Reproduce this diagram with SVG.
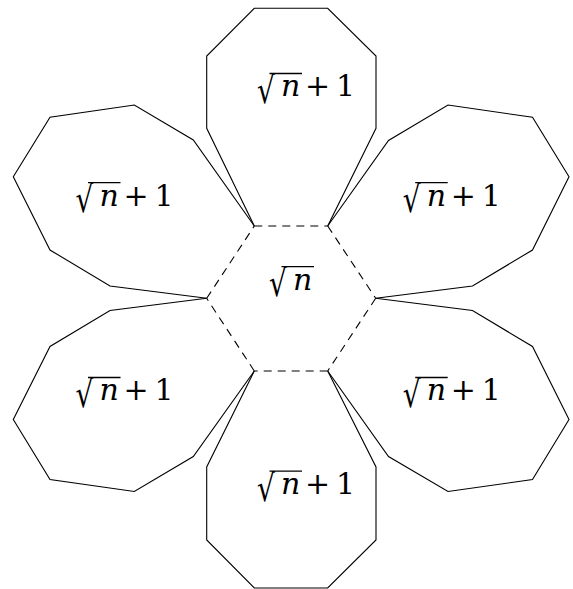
<svg xmlns="http://www.w3.org/2000/svg" width="573" height="589" viewBox="0 0 573 589">
<style>
.petal{fill:none;stroke:#000;stroke-width:1.1;stroke-linejoin:miter}
.hex{stroke:#000;stroke-width:1.1;stroke-dasharray:8 6;fill:none}
.t{font-family:"DejaVu Serif",serif;font-size:30px;fill:#000}
.it{font-style:italic}
.rad{font-family:"DejaVu Serif",serif;font-size:28px;fill:#000}
.bar{stroke:#000;stroke-width:1.3}
</style>
<rect width="573" height="589" fill="#fff"/>
<g id="connectors">
<line class="hex" x1="254.3" y1="226" x2="327.7" y2="226"/>
<line class="hex" x1="327.7" y1="226" x2="375.7" y2="298.3"/>
<line class="hex" x1="375.7" y1="298.3" x2="327.7" y2="371"/>
<line class="hex" x1="327.7" y1="371" x2="254.3" y2="371"/>
<line class="hex" x1="254.3" y1="371" x2="206.7" y2="298.3"/>
<line class="hex" x1="206.7" y1="298.3" x2="254.3" y2="226"/>
</g>
<g id="center">
<g transform="translate(269,289.5)">
<text class="rad" transform="translate(0,6.5) scale(1,1.32)" x="0" y="0">√</text>
<line class="bar" x1="12.5" y1="-22.8" x2="45" y2="-22.8"/>
<text class="t it" x="24" y="0">n</text>
</g>
</g>
<g id="petal-top">
<polyline class="petal" points="254.3,226 206.7,128.3 206.7,56 254.3,8.3 327.7,8.3 376,56 376,128.3 327.7,226"/>
<g transform="translate(257,96.3)">
<text class="rad" transform="translate(0,6.5) scale(1,1.32)" x="0" y="0">√</text>
<line class="bar" x1="12.5" y1="-22.8" x2="45" y2="-22.8"/>
<text class="t it" x="24" y="0">n</text>
<text class="t" x="48" y="0">+</text>
<text class="t" x="79" y="0">1</text>
</g>
</g>
<g id="petal-upper-left">
<polyline class="petal" points="254.3,226 193.3,140 134.3,105 50,117.3 13.3,176.7 50,250 110,286 206.7,298.3"/>
<g transform="translate(75.5,205.5)">
<text class="rad" transform="translate(0,6.5) scale(1,1.32)" x="0" y="0">√</text>
<line class="bar" x1="12.5" y1="-22.8" x2="45" y2="-22.8"/>
<text class="t it" x="24" y="0">n</text>
<text class="t" x="48" y="0">+</text>
<text class="t" x="79" y="0">1</text>
</g>
</g>
<g id="petal-upper-right">
<polyline class="petal" points="327.7,226 388.5,140.5 448,105 532.5,117.3 569,176.7 532.5,250 472.5,286 375.7,298.3"/>
<g transform="translate(402.7,205.5)">
<text class="rad" transform="translate(0,6.5) scale(1,1.32)" x="0" y="0">√</text>
<line class="bar" x1="12.5" y1="-22.8" x2="45" y2="-22.8"/>
<text class="t it" x="24" y="0">n</text>
<text class="t" x="48" y="0">+</text>
<text class="t" x="79" y="0">1</text>
</g>
</g>
<g id="petal-lower-left">
<polyline class="petal" points="206.7,298.3 110,310.5 50,346.5 13.3,419.5 50,479.5 134.3,491.5 193.3,456.5 254.3,371"/>
<g transform="translate(75.5,400.3)">
<text class="rad" transform="translate(0,6.5) scale(1,1.32)" x="0" y="0">√</text>
<line class="bar" x1="12.5" y1="-22.8" x2="45" y2="-22.8"/>
<text class="t it" x="24" y="0">n</text>
<text class="t" x="48" y="0">+</text>
<text class="t" x="79" y="0">1</text>
</g>
</g>
<g id="petal-lower-right">
<polyline class="petal" points="375.7,298.3 472.5,310.5 532.5,346.5 569,419.5 532.5,479.5 448,491.5 388.5,456.5 327.7,371"/>
<g transform="translate(402.7,400.3)">
<text class="rad" transform="translate(0,6.5) scale(1,1.32)" x="0" y="0">√</text>
<line class="bar" x1="12.5" y1="-22.8" x2="45" y2="-22.8"/>
<text class="t it" x="24" y="0">n</text>
<text class="t" x="48" y="0">+</text>
<text class="t" x="79" y="0">1</text>
</g>
</g>
<g id="petal-bottom">
<polyline class="petal" points="254.3,371 206.7,467 206.7,540 254.3,588 327.7,588 376,540 376,467 327.7,371"/>
<g transform="translate(257,494)">
<text class="rad" transform="translate(0,6.5) scale(1,1.32)" x="0" y="0">√</text>
<line class="bar" x1="12.5" y1="-22.8" x2="45" y2="-22.8"/>
<text class="t it" x="24" y="0">n</text>
<text class="t" x="48" y="0">+</text>
<text class="t" x="79" y="0">1</text>
</g>
</g>
</svg>
